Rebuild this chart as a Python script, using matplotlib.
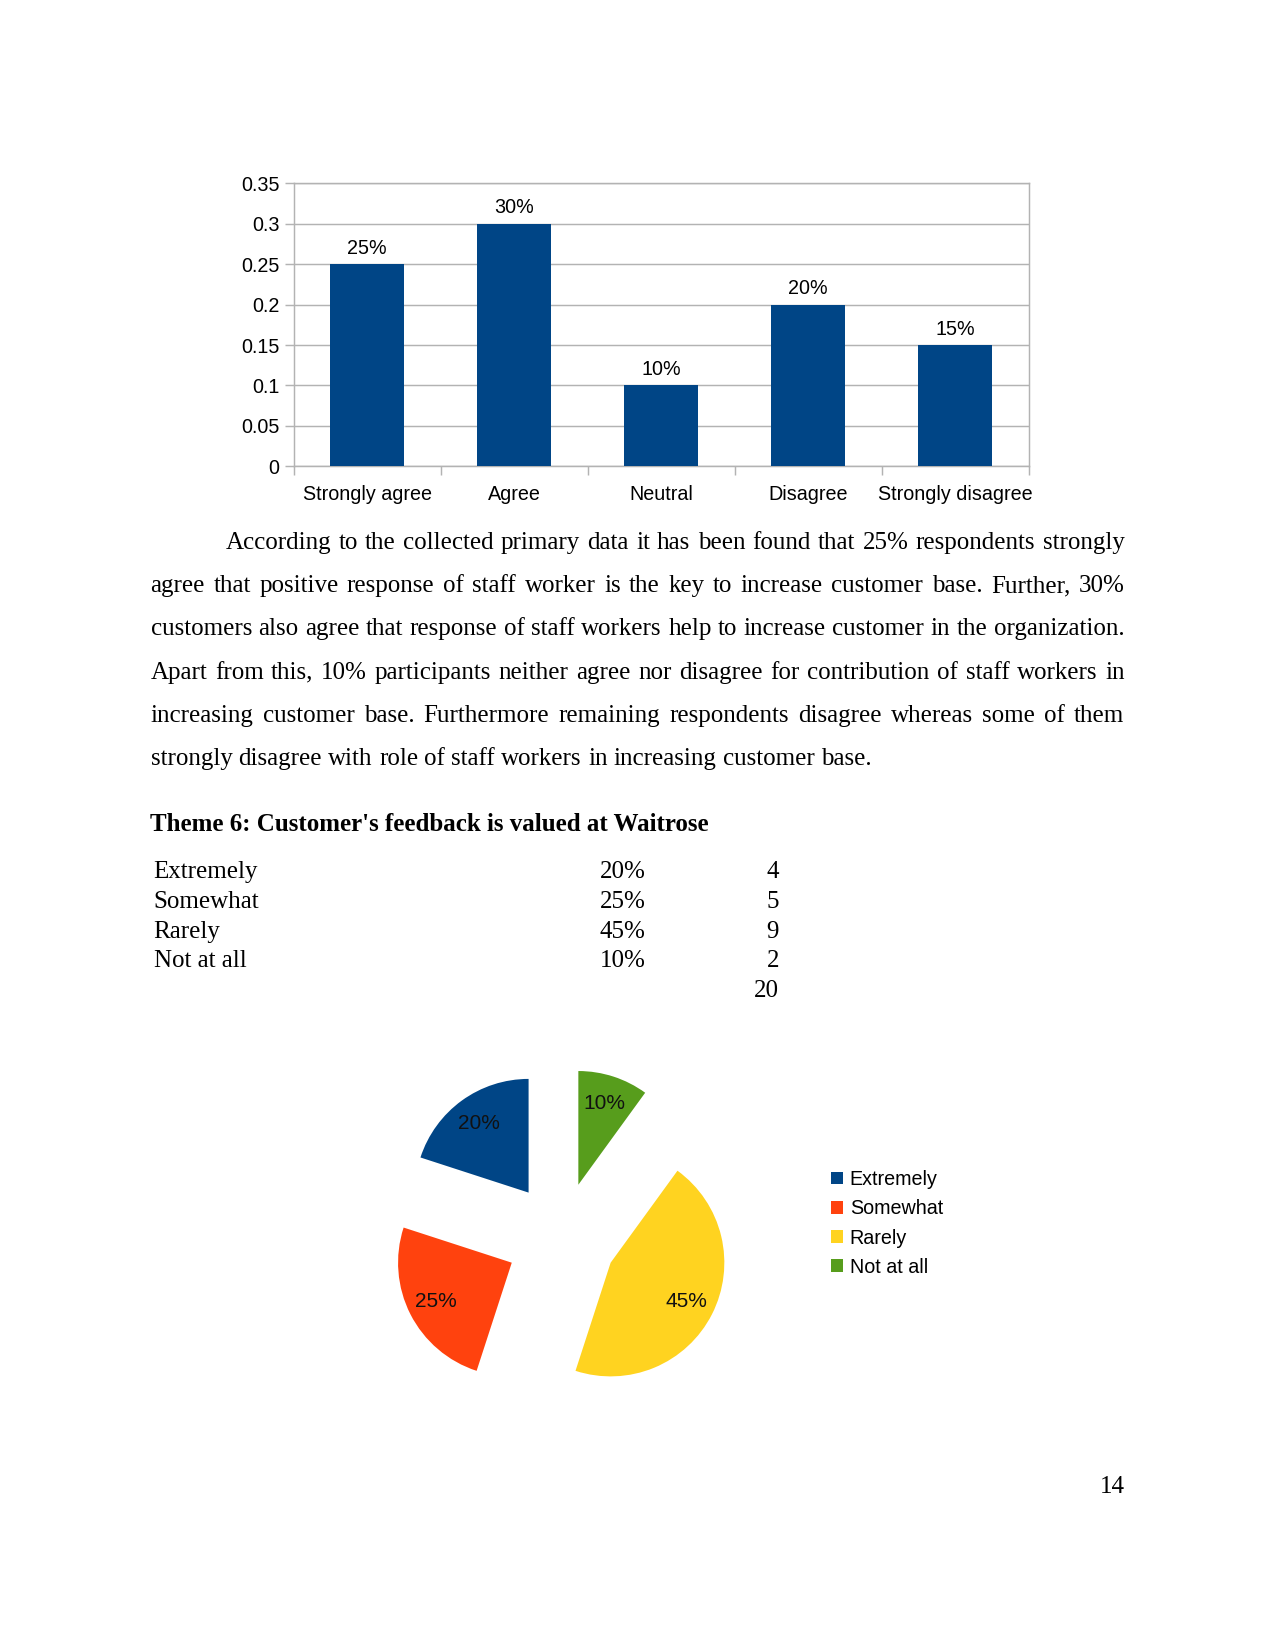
import matplotlib
matplotlib.use("Agg")
import matplotlib.pyplot as plt

# page geometry (pixels at 150 dpi, letter size)
W, H = 1275, 1651
DPI = 150

# bar chart data
agreement_levels = ["Strongly agree", "Agree", "Neutral", "Disagree", "Strongly disagree"]
agreement_shares = [0.25, 0.30, 0.10, 0.20, 0.15]
agreement_labels = ["25%", "30%", "10%", "20%", "15%"]
y_ticks = [0, 0.05, 0.1, 0.15, 0.2, 0.25, 0.3, 0.35]
y_tick_labels = ["0", "0.05", "0.1", "0.15", "0.2", "0.25", "0.3", "0.35"]

# theme 6 table / pie data
feedback_levels = ["Extremely", "Somewhat", "Rarely", "Not at all"]
feedback_pct = [20, 25, 45, 10]
feedback_pct_labels = ["20%", "25%", "45%", "10%"]
feedback_counts = [4, 5, 9, 2]
feedback_total = 20

paragraph_lines = [
    "According to the collected primary data it has been found that 25% respondents strongly",
    "agree that positive response of staff worker is the key to increase customer base. Further, 30%",
    "customers also agree that response of staff workers help to increase customer in the organization.",
    "Apart from this, 10% participants neither agree nor disagree for contribution of staff workers in",
    "increasing customer base. Furthermore remaining respondents disagree whereas some of them",
    "strongly disagree with role of staff workers in increasing customer base.",
]

BLUE = "#004586"
pie_colors = ["#004586", "#ff420e", "#ffd320", "#579d1c"]
GRID = "#b3b3b3"
SANS = "Liberation Sans"
SERIF = "Liberation Serif"


def fx(px):
    return px / W


def fy(py):
    return 1 - py / H


fig = plt.figure(figsize=(W / DPI, H / DPI), dpi=DPI)

# ---- bar chart ----
left, right, top, bottom = 293.7, 1028.6, 183.2, 466.4
ax = fig.add_axes([fx(left), fy(bottom), fx(right - left), (bottom - top) / H])
x = list(range(len(agreement_levels)))
bars = ax.bar(x, agreement_shares, width=0.5, color=BLUE, zorder=3)
ax.bar_label(bars, labels=agreement_labels, padding=3, fontsize=9.5, family=SANS)
ax.set_xlim(-0.5, len(x) - 0.5)
ax.set_ylim(0, 0.35)
ax.set_yticks(y_ticks)
ax.set_yticklabels(y_tick_labels, family=SANS, fontsize=9.5)
ax.set_xticks(x)
ax.set_xticklabels(agreement_levels, family=SANS, fontsize=9.5)
ax.set_xticks([i - 0.5 for i in range(len(x) + 1)], minor=True)
ax.tick_params(axis="x", which="major", length=0, pad=9)
ax.tick_params(axis="x", which="minor", length=4.3, color=GRID, width=0.7)
ax.tick_params(axis="y", length=4.3, color=GRID, width=0.7, pad=2.5)
ax.yaxis.grid(True, color=GRID, lw=0.7, zorder=0)
for s in ax.spines.values():
    s.set_color(GRID)
    s.set_linewidth(0.7)

# ---- justified paragraph ----
renderer = fig.canvas.get_renderer()
text_left, text_right = 150.5, 1124.5
baseline0, line_gap = 549.0, 43.2
for i, line in enumerate(paragraph_lines):
    y = baseline0 + i * line_gap
    x0 = 225.5 if i == 0 else text_left
    words = line.split()
    texts = [fig.text(fx(x0), fy(y), w, family=SERIF, fontsize=12, va="baseline") for w in words]
    widths = [t.get_window_extent(renderer).width for t in texts]
    if i == len(paragraph_lines) - 1:
        space = 6.2  # last line is not stretched
    else:
        space = (text_right - x0 - sum(widths)) / (len(words) - 1)
    cur = x0
    for t, w in zip(texts, widths):
        t.set_x(fx(cur))
        cur += w + space

# ---- heading and table ----
fig.text(fx(150.5), fy(831), "Theme 6: Customer's feedback is valued at Waitrose",
         family=SERIF, fontsize=12, fontweight="bold", va="baseline")
row_y = [878, 907.8, 937.6, 967.4]
for y, name, pct, cnt in zip(row_y, feedback_levels, feedback_pct_labels, feedback_counts):
    fig.text(fx(153.5), fy(y), name, family=SERIF, fontsize=12, va="baseline")
    fig.text(fx(600), fy(y), pct, family=SERIF, fontsize=12, va="baseline")
    fig.text(fx(779), fy(y), str(cnt), family=SERIF, fontsize=12, va="baseline", ha="right")
fig.text(fx(779), fy(997.2), str(feedback_total), family=SERIF, fontsize=12, va="baseline", ha="right")

# ---- exploded pie ----
cx, cy, r = 561.2, 1237.5, 113.7
half = 200
pax = fig.add_axes([fx(cx - half), fy(cy + half), 2 * half / W, 2 * half / H])
wedges, _, autotexts = pax.pie(
    feedback_pct, colors=pie_colors, startangle=90, counterclock=True,
    explode=[0.488] * len(feedback_pct), autopct="%1.0f%%", pctdistance=0.75,
    textprops=dict(family=SANS, fontsize=10, color="#111111"),
)
lim = half / r
pax.set_xlim(-lim, lim)
pax.set_ylim(-lim, lim)
pax.axis("off")

fig.legend(wedges, feedback_levels, loc="upper left",
           bbox_to_anchor=(fx(830.5), fy(1170)), frameon=False,
           handlelength=0.62, handleheight=0.62, handletextpad=0.35,
           labelspacing=0.52, borderpad=0, borderaxespad=0,
           prop=dict(family=SANS, size=9.5))

# page number
fig.text(fx(1125), fy(1493), "14", family=SERIF, fontsize=12, va="baseline", ha="right")

fig.savefig("out.png", dpi=DPI)
